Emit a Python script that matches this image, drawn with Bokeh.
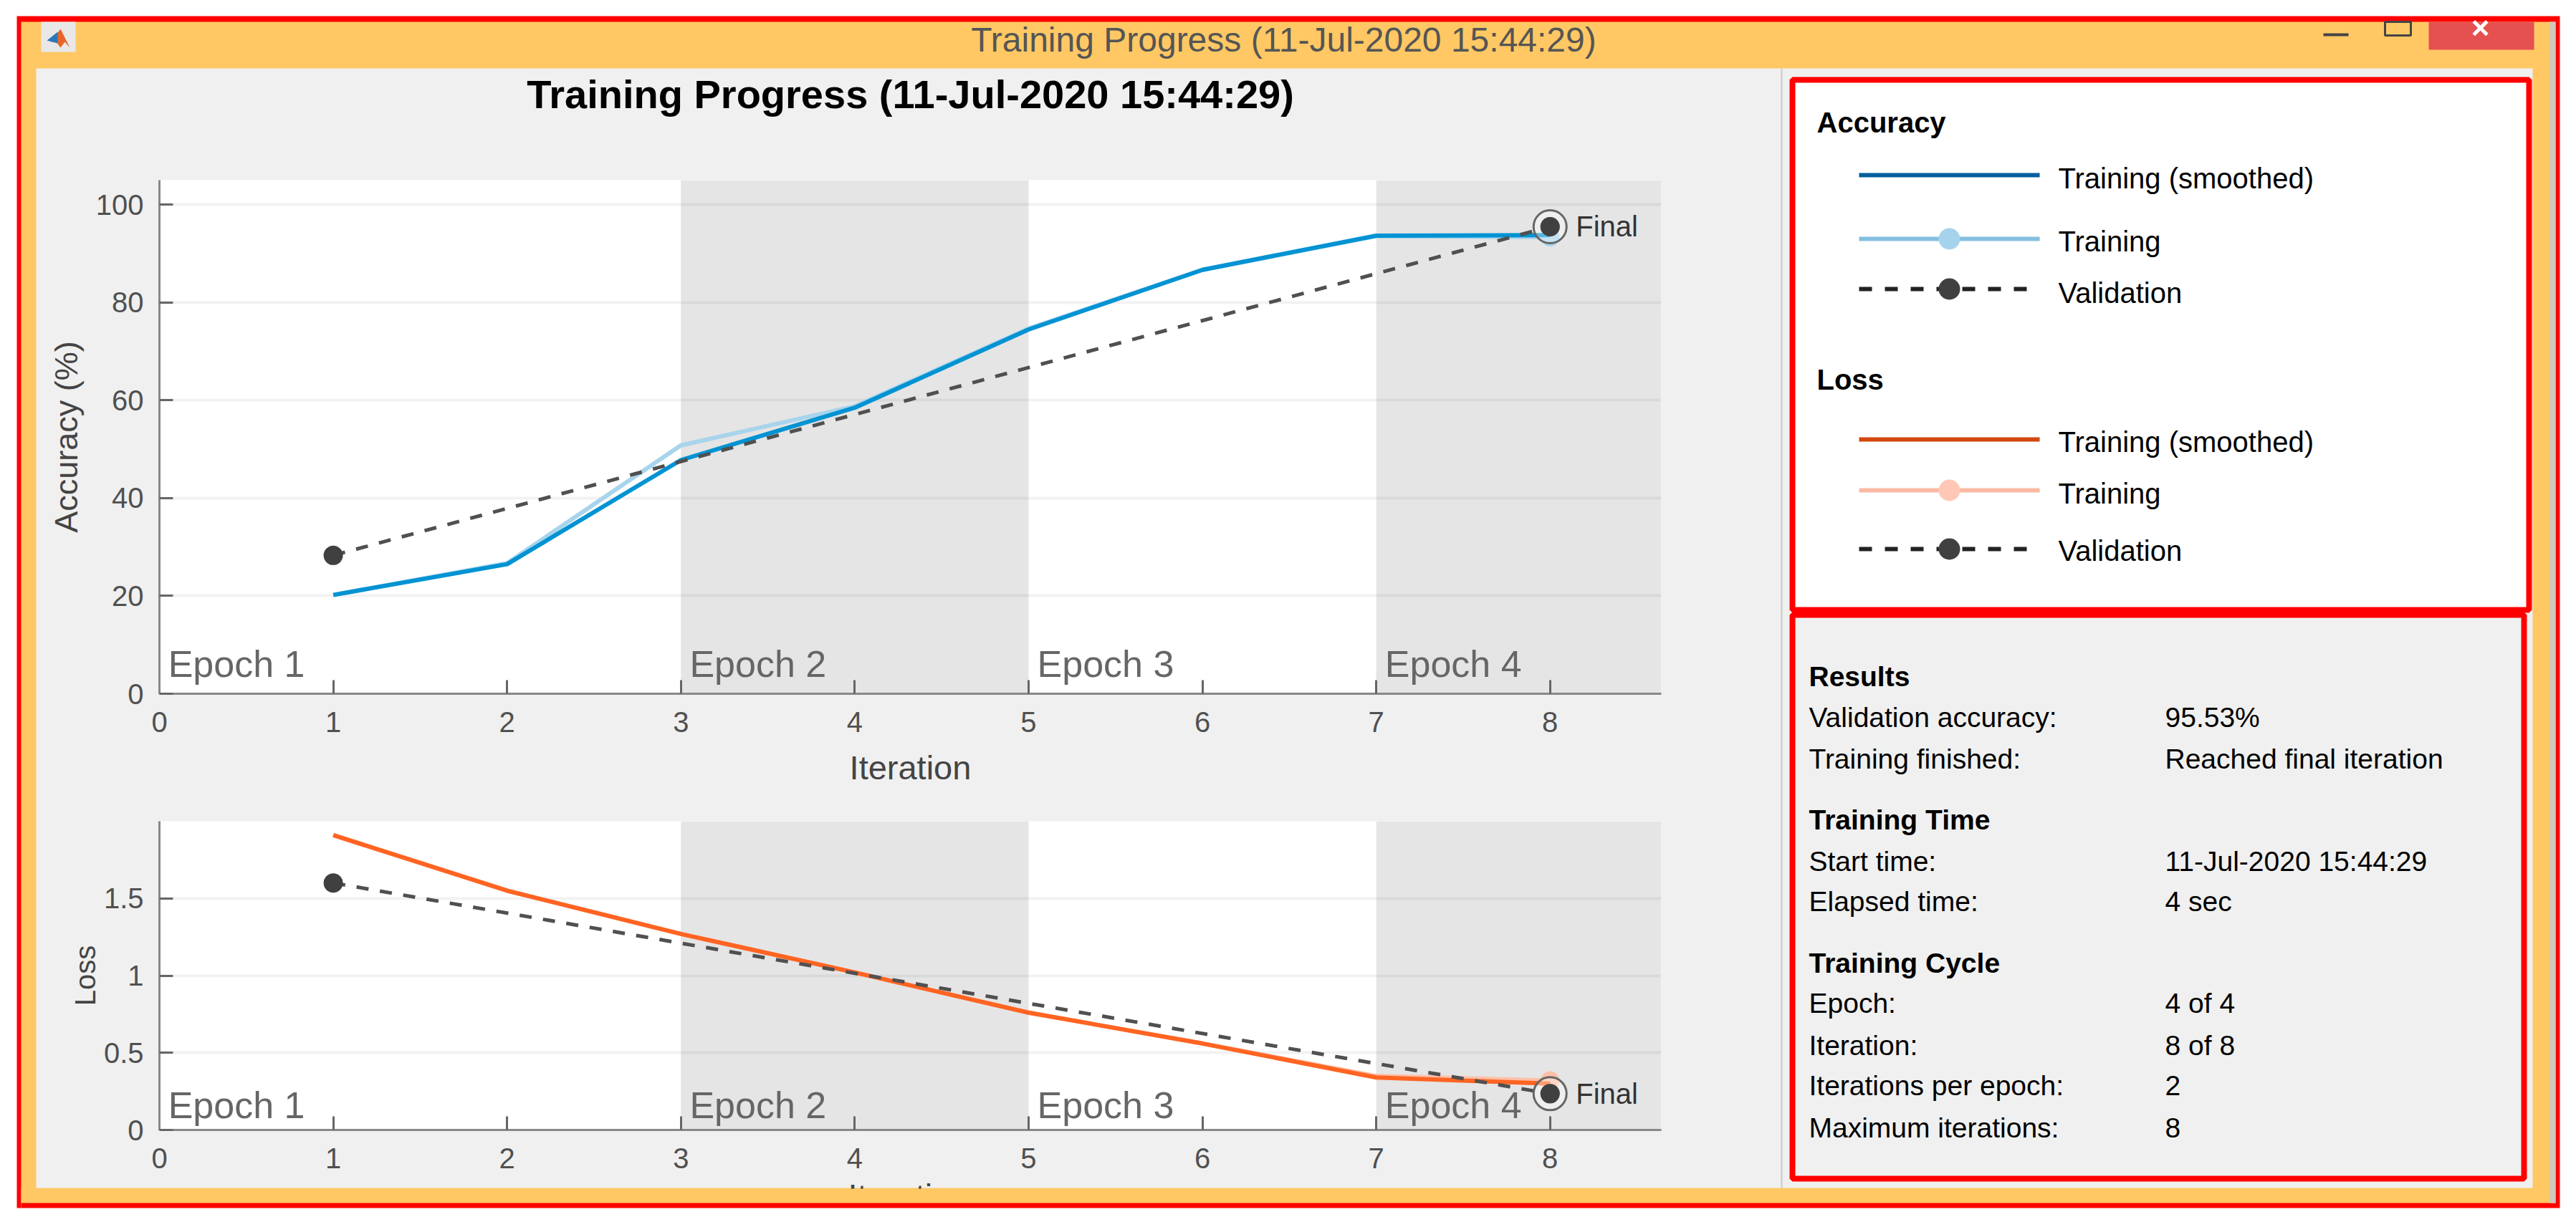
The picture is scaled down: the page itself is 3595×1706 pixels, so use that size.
from bokeh.core.properties import value
from bokeh.embed import file_html
from bokeh.layouts import column
from bokeh.models import Range1d
from bokeh.plotting import figure
from bokeh.resources import INLINE

iterations = [1, 2, 3, 4, 5, 6, 7, 8]
acc_smoothed = [20.2, 26.5, 47.8, 58.5, 74.5, 86.7, 93.7, 93.8]
acc_training = [20.2, 26.7, 50.8, 58.8, 74.7, 86.7, 93.6, 93.4]
acc_val_iter = [1, 8]
acc_validation = [28.3, 95.53]
loss_smoothed = [1.91, 1.55, 1.27, 1.02, 0.76, 0.56, 0.34, 0.30]
loss_training = [1.91, 1.55, 1.27, 1.02, 0.76, 0.56, 0.35, 0.32]
loss_val_iter = [1, 8]
loss_validation = [1.60, 0.235]

epoch_names = ["Epoch 1", "Epoch 2", "Epoch 3", "Epoch 4"]
epoch_start = [0, 3, 5, 7]
shade_start = [3, 7]
shade_end = [5, 8.64]

x_ticks = [0, 1, 2, 3, 4, 5, 6, 7, 8]
acc_ticks = [0, 20, 40, 60, 80, 100]
loss_ticks = [0, 0.5, 1, 1.5]
loss_tick_labels = ["0", "0.5", "1", "1.5"]

results_rows = [
    ("Results", "", True, 944),
    ("Validation accuracy:", "95.53%", False, 1001),
    ("Training finished:", "Reached final iteration", False, 1059),
    ("Training Time", "", True, 1144),
    ("Start time:", "11-Jul-2020 15:44:29", False, 1202),
    ("Elapsed time:", "4 sec", False, 1258),
    ("Training Cycle", "", True, 1344),
    ("Epoch:", "4 of 4", False, 1400),
    ("Iteration:", "8 of 8", False, 1459),
    ("Iterations per epoch:", "2", False, 1515),
    ("Maximum iterations:", "8", False, 1574),
]

FONT = "Liberation Sans"
W, H = 3579, 1698
ORANGE = "#FFC864"
PANEL = "#F0F0F0"
RED = "#FF0000"
DARK = "#404040"

# page sized figure for the window, the legend and the results
p = figure(width=W, height=H, x_range=Range1d(0, W), y_range=Range1d(H, 0),
           output_backend="svg", toolbar_location=None, min_border=0, frame_align=False,
           x_axis_location=None, y_axis_location=None)
p.grid.visible = False
p.outline_line_color = None


def box(x0, x1, y0, y1, color, **kw):
    p.quad(left=[x0], right=[x1], top=[y0], bottom=[y1], fill_color=color,
           line_color=kw.pop("line_color", None), **kw)


def label(x, y, text, size, color="#000000", bold=False, align="left", **kw):
    p.text([x], [y], text=[text], text_font=value(FONT), text_font_size=f"{size}px", text_color=color,
           text_font_style="bold" if bold else "normal", text_align=align,
           text_baseline="middle", **kw)


box(23, 3572, 22, 1686, RED)
box(29, 3566, 30, 1679, ORANGE)
box(3558, 3566, 30, 1679, "#CFC8BE")
box(50, 3534, 95, 1658, PANEL)
box(2485, 2487, 95, 1658, "#C9C9C9")

# x label of the loss plot, mostly hidden by the strip figure below
label(1268, 1669, "Iteration", 47, "#444444", align="center")

# title bar
box(57, 105, 30, 72, "#E8E8E8")
p.patch([70, 84, 97, 90, 84, 78], [58, 40, 66, 58, 66, 58], fill_color="#E8642A", line_color=None)
p.patch([65, 80, 80], [56, 44, 60], fill_color="#2A78B8", line_color=None)
label(1791, 55, "Training Progress (11-Jul-2020 15:44:29)", 48, "#555555", align="center")
label(1270, 131, "Training Progress (11-Jul-2020 15:44:29)", 56, bold=True, align="center")
box(3242, 3277, 46, 50, "#444444")
box(3328, 3364, 30, 49, ORANGE, line_color="#444444", line_width=3)
box(3389, 3536, 30, 69, "#E55050")
label(3461, 38, "×", 44, "#FFFFFF", bold=True, align="center")

# legend box
box(2501, 3529, 111, 851, "#FFFFFF", line_color=RED, line_width=8)
label(2535, 170, "Accuracy", 40, bold=True)
label(2535, 529, "Loss", 40, bold=True)
legend_rows = [
    ("Training (smoothed)", 244, 248, "#005F9E", None),
    ("Training", 333, 336, "#84BFE0", "#A6D3EC"),
    ("Validation", 403, 408, "#222222", DARK),
    ("Training (smoothed)", 613, 616, "#D4470C", None),
    ("Training", 684, 688, "#FBB9A3", "#FFC8B6"),
    ("Validation", 766, 768, "#222222", DARK),
]
for name, line_y, text_y, color, marker in legend_rows:
    dash = [18, 18] if name == "Validation" else []
    p.line([2594, 2846], [line_y, line_y], line_color=color, line_width=6, line_dash=dash)
    if marker:
        p.scatter([2720], [line_y], size=30, fill_color=marker, line_color=None)
    label(2872, text_y, name, 40)

# results box
box(2501, 3522, 858, 1645, PANEL, line_color=RED, line_width=8)
for name, val, bold, y in results_rows:
    label(2524, y, name, 39, bold=bold)
    if val:
        label(3021, y, val, 39)


def progress_plot(top, frame_h, bottom_pad, y_end, y_ticks, y_name, text_y):
    f = figure(width=172 + 2096 + 20, height=20 + frame_h + bottom_pad, frame_width=2096,
               frame_height=frame_h, min_border_left=172, min_border_right=20,
               min_border_top=20, min_border_bottom=bottom_pad, frame_align=False,
               x_range=Range1d(0, 8.64), y_range=Range1d(0, y_end),
               output_backend="svg", toolbar_location=None,
               background_fill_color="#FFFFFF", border_fill_alpha=0,
               styles={"position": "absolute", "left": "50px", "top": f"{top}px"})
    f.outline_line_color = None
    f.xgrid.visible = False
    f.ygrid.ticker = y_ticks
    f.ygrid.grid_line_color = "#000000"
    f.ygrid.grid_line_alpha = 0.05
    f.ygrid.grid_line_width = 4
    f.xaxis.ticker = x_ticks
    f.yaxis.ticker = y_ticks
    for ax in (f.xaxis[0], f.yaxis[0]):
        ax.axis_line_color = "#888888"
        ax.axis_line_width = 3
        ax.major_tick_line_color = "#666666"
        ax.major_tick_line_width = 3
        ax.major_tick_in = 19
        ax.major_tick_out = 0
        ax.minor_tick_line_color = None
        ax.major_label_text_font = FONT
        ax.major_label_text_font_size = "40px"
        ax.major_label_text_color = "#505050"
        ax.axis_label_text_font = FONT
        ax.axis_label_text_font_style = "normal"
        ax.axis_label_text_color = "#444444"
    f.xaxis.major_label_standoff = 25
    f.yaxis.major_label_standoff = 22
    f.yaxis.axis_label = y_name
    f.quad(left=shade_start, right=shade_end, bottom=0, top=y_end, fill_color="#E5E5E5",
           line_color=None, level="image")
    f.text([s + 0.05 for s in epoch_start], [text_y] * 4, text=epoch_names, text_font=value(FONT),
           text_font_size="52px", text_color="#666666", text_baseline="alphabetic")
    return f


def draw_series(f, train, smooth, val_x, val_y, light, strong):
    f.line(iterations, train, line_color=light, line_width=6)
    f.scatter(iterations[-1:], train[-1:], size=26, fill_color=light, line_color=None)
    f.line(iterations, smooth, line_color=strong, line_width=6)
    f.line(val_x, val_y, line_color="#505050", line_width=5, line_dash=[17, 16])
    f.scatter(val_x, val_y, size=27, fill_color=DARK, line_color=None)
    f.scatter(val_x[-1:], val_y[-1:], size=46, fill_color="#FFFFFF", fill_alpha=0.35,
              line_color="#666666", line_width=3)
    f.scatter(val_x[-1:], val_y[-1:], size=27, fill_color=DARK, line_color=None)
    f.text(val_x[-1:], val_y[-1:], text=["Final"], x_offset=36, text_font=value(FONT),
           text_font_size="40px", text_color="#333333", text_baseline="middle")


acc = progress_plot(231, 717, 135, 105.05, acc_ticks, "Accuracy (%)", 6.1)
acc.xaxis.axis_label = "Iteration"
acc.xaxis.axis_label_standoff = 20
acc.xaxis.axis_label_text_font_size = "47px"
acc.yaxis.axis_label_text_font_size = "45px"
acc.yaxis.axis_label_standoff = 13
draw_series(acc, acc_training, acc_smoothed, acc_val_iter, acc_validation, "#A8D4EC", "#0093D3")

loss = progress_plot(1126, 431, 80, 2.0, loss_ticks, "Loss", 0.158)
loss.yaxis.major_label_overrides = dict(zip(loss_ticks, loss_tick_labels))
loss.yaxis.axis_label_text_font_size = "40px"
loss.yaxis.axis_label_standoff = 1
draw_series(loss, loss_training, loss_smoothed, loss_val_iter, loss_validation, "#FFC0A8", "#FF6422")

# orange strip and red line under the panel, on top of the clipped label
strip = figure(width=3529, height=27, x_range=Range1d(0, 3529), y_range=Range1d(27, 0),
               output_backend="svg", toolbar_location=None, min_border=0, frame_align=False,
               x_axis_location=None, y_axis_location=None, background_fill_color=ORANGE,
               border_fill_color=ORANGE, styles={"position": "absolute", "left": "29px", "top": "1659px"})
strip.grid.visible = False
strip.outline_line_color = None
strip.quad(left=[0], right=[3529], top=[20], bottom=[27], fill_color=RED, line_color=None)

page = column(p, acc, loss, strip)
open("out.html", "w").write(file_html(page, INLINE))
